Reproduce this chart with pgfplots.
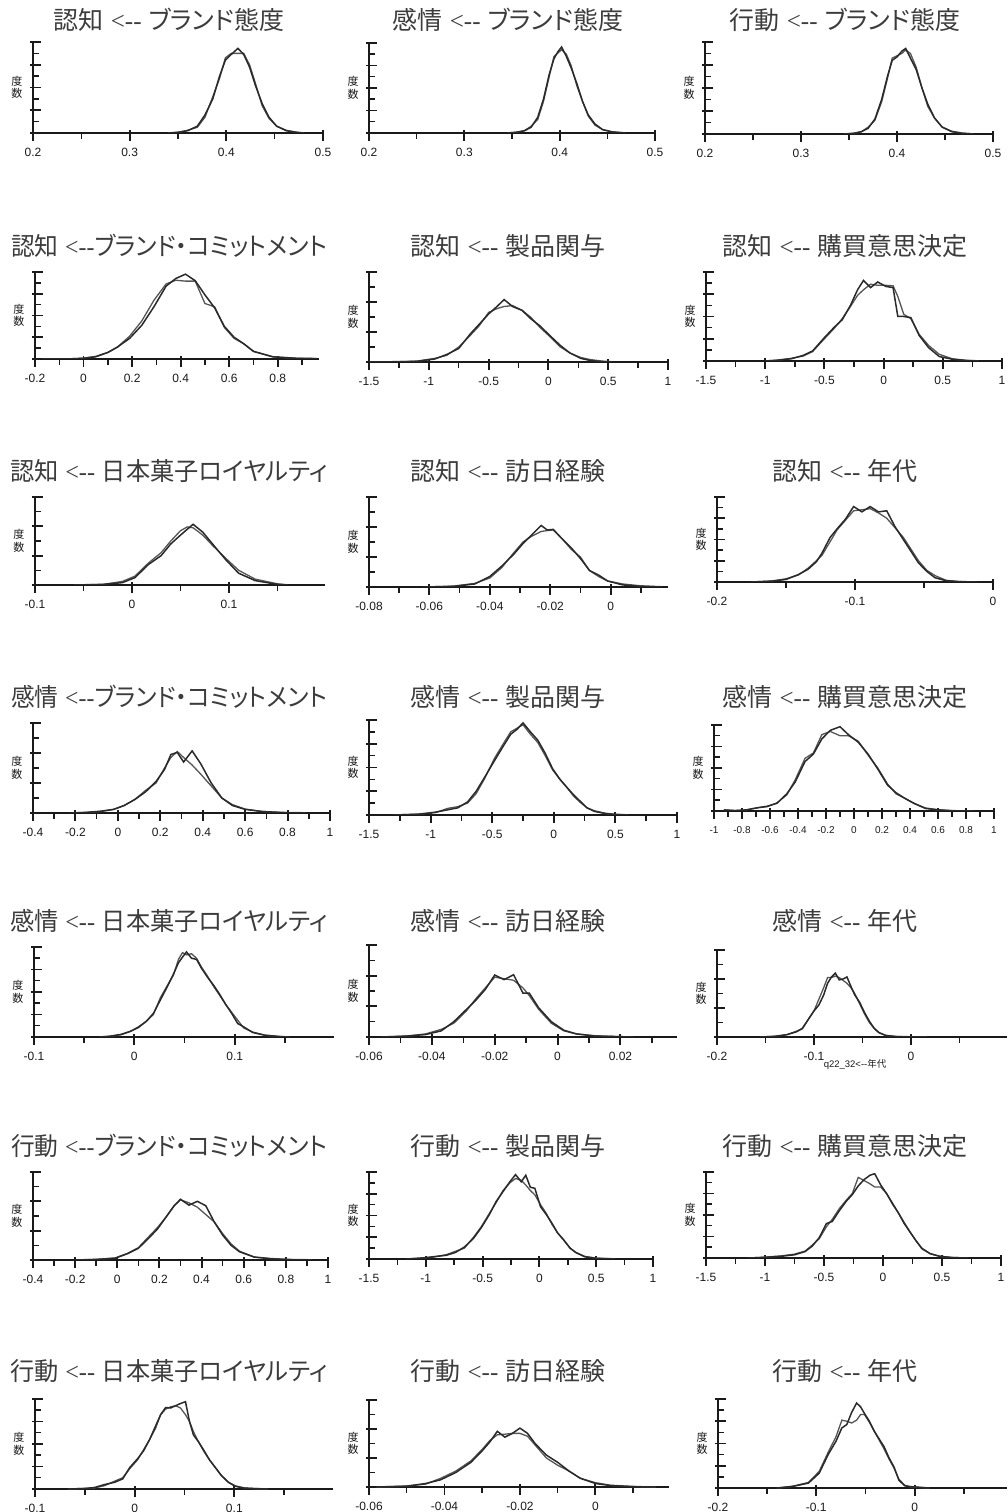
\documentclass[border=0pt]{standalone}
\usepackage{fontspec}
\usepackage{pgfplots}
\usepackage{pgfplotstable}
\pgfplotsset{compat=1.18}
\setmainfont{Liberation Sans}
\newfontfamily\cjk{Noto Sans CJK JP}[RawFeature=+palt]
\newfontfamily\serif{Liberation Serif}

\definecolor{ink}{HTML}{1A1A1A}
\definecolor{titleink}{HTML}{3C3C3C}
\definecolor{curvedark}{HTML}{2A2A2A}
\definecolor{curvegray}{HTML}{555555}

% ---- bootstrap distributions, y in tick units (x, dark curve, gray curve)
% row 1
\pgfplotstableread{
x d g
0.340 0 0
0.350 0.03 0.03
0.360 0.10 0.12
0.370 0.30 0.25
0.378 0.80 0.70
0.386 1.50 1.60
0.393 2.50 2.40
0.399 3.20 3.30
0.405 3.45 3.50
0.412 3.72 3.50
0.418 3.45 3.50
0.424 2.90 3.00
0.430 2.10 2.20
0.437 1.30 1.20
0.444 0.70 0.65
0.452 0.30 0.30
0.462 0.10 0.12
0.472 0.03 0.04
0.480 0 0
}\rAa
\pgfplotstableread{
x d g
0.345 0 0
0.355 0.03 0.04
0.363 0.10 0.10
0.370 0.25 0.30
0.377 0.70 0.60
0.383 1.50 1.40
0.389 2.60 2.50
0.394 3.30 3.40
0.398 3.60 3.55
0.402 3.82 3.70
0.407 3.40 3.50
0.412 2.90 3.00
0.418 2.20 2.10
0.424 1.40 1.40
0.430 0.80 0.75
0.437 0.40 0.35
0.445 0.15 0.15
0.455 0.05 0.05
0.468 0 0.01
}\rAb
\pgfplotstableread{
x d g
0.345 0 0
0.355 0.03 0.03
0.363 0.10 0.10
0.370 0.25 0.30
0.377 0.65 0.60
0.384 1.50 1.40
0.390 2.50 2.40
0.395 3.20 3.30
0.400 3.35 3.40
0.405 3.60 3.50
0.409 3.72 3.65
0.414 3.30 3.50
0.420 2.80 2.90
0.426 2.00 2.00
0.432 1.30 1.20
0.439 0.70 0.70
0.447 0.30 0.30
0.457 0.10 0.12
0.468 0.03 0.04
0.480 0 0
}\rAc
% row 2
\pgfplotstableread{
x d g
-0.17 0 0
-0.05 0.01 0.01
0.00 0.03 0.04
0.05 0.10 0.12
0.10 0.30 0.30
0.14 0.55 0.55
0.19 0.95 1.05
0.24 1.55 1.75
0.29 2.40 2.70
0.34 3.35 3.45
0.38 3.70 3.62
0.42 3.90 3.58
0.46 3.60 3.58
0.50 2.95 2.55
0.54 2.35 2.40
0.58 1.50 1.45
0.62 1.00 0.95
0.66 0.70 0.70
0.70 0.35 0.35
0.78 0.10 0.10
0.88 0.03 0.03
0.96 0.02 0.02
}\rBa
\pgfplotstableread{
x d g
-1.50 0 0
-1.25 0.01 0.01
-1.10 0.02 0.03
-0.95 0.10 0.12
-0.85 0.25 0.22
-0.75 0.45 0.50
-0.65 0.95 0.90
-0.58 1.25 1.20
-0.50 1.60 1.65
-0.43 1.85 1.78
-0.37 2.08 1.85
-0.30 1.85 1.88
-0.22 1.72 1.72
-0.15 1.45 1.50
-0.07 1.20 1.15
0.02 0.85 0.82
0.10 0.55 0.50
0.18 0.30 0.30
0.27 0.12 0.15
0.35 0.05 0.08
0.45 0.01 0.03
0.53 0 0.01
}\rBb
\pgfplotstableread{
x d g
-1.00 0 0
-0.90 0.03 0.04
-0.78 0.10 0.12
-0.68 0.25 0.22
-0.60 0.45 0.42
-0.50 1.05 1.00
-0.42 1.50 1.45
-0.35 1.85 1.90
-0.28 2.50 2.45
-0.22 3.20 2.95
-0.17 3.62 3.20
-0.11 3.30 3.45
-0.05 3.55 3.40
0.02 3.35 3.40
0.08 3.30 3.38
0.12 2.00 2.90
0.17 2.00 2.10
0.23 1.95 1.90
0.30 1.15 1.20
0.38 0.60 0.70
0.47 0.20 0.30
0.58 0.08 0.10
0.70 0.02 0.03
0.80 0 0.01
}\rBc
% row 3
\pgfplotstableread{
x d g
-0.060 0 0
-0.030 0.02 0.02
-0.010 0.08 0.12
0.003 0.25 0.30
0.017 0.70 0.75
0.030 1.00 1.10
0.040 1.40 1.50
0.050 1.70 1.85
0.057 1.90 1.98
0.063 2.07 1.95
0.073 1.80 1.70
0.083 1.40 1.35
0.097 0.85 0.90
0.110 0.40 0.50
0.127 0.15 0.20
0.150 0.02 0.04
0.160 0 0.01
}\rCa
\pgfplotstableread{
x d g
-0.062 0 0
-0.052 0.02 0.03
-0.045 0.10 0.12
-0.040 0.35 0.30
-0.036 0.70 0.65
-0.032 1.10 1.15
-0.029 1.45 1.50
-0.026 1.75 1.70
-0.023 2.05 1.85
-0.021 1.90 1.88
-0.019 1.92 1.90
-0.016 1.60 1.60
-0.013 1.30 1.25
-0.010 0.95 1.00
-0.007 0.55 0.55
-0.004 0.40 0.35
-0.001 0.20 0.20
0.004 0.07 0.10
0.010 0.02 0.04
0.017 0 0.01
}\rCb
\pgfplotstableread{
x d g
-0.175 0 0
-0.160 0.04 0.05
-0.150 0.12 0.15
-0.141 0.35 0.33
-0.134 0.60 0.65
-0.128 0.95 1.00
-0.124 1.35 1.25
-0.118 2.10 1.90
-0.113 2.50 2.45
-0.107 2.95 2.90
-0.101 3.55 3.35
-0.095 3.30 3.40
-0.089 3.55 3.45
-0.083 3.30 3.25
-0.077 3.35 3.00
-0.071 2.60 2.55
-0.065 2.00 2.10
-0.060 1.50 1.60
-0.054 0.90 1.00
-0.048 0.50 0.55
-0.042 0.20 0.30
-0.034 0.06 0.08
-0.025 0.02 0.02
-0.012 0 0
}\rCc
% row 4
\pgfplotstableread{
x d g
-0.22 0 0
-0.15 0.02 0.02
-0.08 0.06 0.05
-0.02 0.12 0.12
0.03 0.25 0.25
0.08 0.45 0.45
0.13 0.70 0.75
0.18 1.05 1.00
0.22 1.45 1.50
0.25 1.95 1.85
0.28 2.02 2.05
0.31 1.70 1.85
0.35 2.07 1.60
0.39 1.65 1.30
0.44 1.00 0.90
0.49 0.50 0.50
0.54 0.25 0.28
0.60 0.12 0.13
0.68 0.05 0.05
0.78 0.01 0.02
0.88 0 0.01
}\rDa
\pgfplotstableread{
x d g
-1.30 0 0
-1.10 0.03 0.04
-0.96 0.12 0.10
-0.86 0.22 0.28
-0.78 0.30 0.35
-0.70 0.55 0.50
-0.63 1.00 0.90
-0.56 1.60 1.55
-0.48 2.30 2.40
-0.41 2.90 3.00
-0.35 3.40 3.50
-0.30 3.60 3.65
-0.25 3.88 3.80
-0.19 3.50 3.40
-0.13 3.15 3.05
-0.07 2.60 2.50
-0.01 1.95 1.90
0.05 1.50 1.50
0.10 1.20 1.20
0.16 0.85 0.80
0.21 0.60 0.55
0.27 0.30 0.30
0.33 0.15 0.18
0.42 0.06 0.07
0.50 0.02 0.03
0.60 0 0.01
}\rDb
\pgfplotstableread{
x d g
-0.93 0.05 0.05
-0.85 0.02 0.02
-0.77 0.05 0.05
-0.69 0.15 0.15
-0.62 0.22 0.20
-0.55 0.36 0.38
-0.48 0.80 0.75
-0.42 1.35 1.45
-0.35 2.30 2.45
-0.29 2.65 2.70
-0.23 3.35 3.55
-0.17 3.75 3.70
-0.10 3.92 3.50
-0.04 3.55 3.50
0.03 3.20 3.25
0.10 2.65 2.60
0.17 1.95 2.00
0.24 1.20 1.25
0.30 0.85 0.80
0.36 0.60 0.60
0.43 0.35 0.35
0.51 0.12 0.14
0.60 0.05 0.06
0.70 0.01 0.02
0.85 0 0
}\rDc
% row 5
\pgfplotstableread{
x d g
-0.035 0 0
-0.025 0.03 0.03
-0.013 0.12 0.10
-0.004 0.25 0.25
0.004 0.42 0.45
0.012 0.70 0.70
0.019 1.05 1.00
0.026 1.65 1.75
0.033 2.25 2.30
0.039 2.80 2.75
0.044 3.30 3.45
0.048 3.55 3.75
0.052 3.78 3.65
0.057 3.50 3.70
0.062 3.45 3.50
0.067 3.05 3.10
0.073 2.65 2.70
0.079 2.30 2.25
0.085 1.90 1.85
0.091 1.45 1.45
0.097 1.05 1.10
0.103 0.60 0.75
0.109 0.45 0.40
0.118 0.20 0.22
0.130 0.08 0.08
0.145 0.02 0.02
0.155 0 0
}\rEa
\pgfplotstableread{
x d g
-0.056 0 0
-0.048 0.03 0.03
-0.042 0.08 0.10
-0.037 0.20 0.25
-0.033 0.50 0.45
-0.029 0.90 0.85
-0.026 1.20 1.25
-0.023 1.55 1.60
-0.020 2.02 1.95
-0.017 1.87 1.90
-0.014 2.03 1.85
-0.011 1.43 1.60
-0.009 1.43 1.35
-0.006 0.95 0.90
-0.002 0.50 0.45
0.002 0.22 0.20
0.006 0.10 0.10
0.012 0.03 0.04
0.024 0 0
}\rEb
\pgfplotstableread{
x d g
-0.155 0 0
-0.140 0.02 0.03
-0.128 0.08 0.08
-0.118 0.18 0.20
-0.112 0.30 0.28
-0.106 0.60 0.60
-0.100 0.90 0.90
-0.095 1.10 1.30
-0.090 1.45 1.70
-0.086 1.85 2.05
-0.082 2.07 2.05
-0.078 2.20 2.10
-0.074 1.97 2.05
-0.070 2.00 1.95
-0.066 2.07 1.85
-0.062 1.75 1.70
-0.058 1.45 1.50
-0.053 1.20 1.15
-0.048 0.85 0.80
-0.043 0.55 0.50
-0.038 0.30 0.30
-0.033 0.15 0.15
-0.026 0.05 0.06
-0.015 0.01 0.02
0.016 0 0
}\rEc
% row 6
\pgfplotstableread{
x d g
-0.20 0 0
-0.10 0.02 0.02
-0.01 0.06 0.07
0.05 0.22 0.23
0.10 0.40 0.42
0.15 0.75 0.80
0.19 1.05 1.10
0.23 1.45 1.45
0.27 1.85 1.85
0.30 2.07 2.05
0.34 1.87 1.95
0.38 2.00 1.80
0.42 1.85 1.55
0.46 1.30 1.30
0.50 0.85 0.90
0.54 0.50 0.55
0.58 0.28 0.30
0.65 0.10 0.10
0.73 0.04 0.05
0.82 0.01 0.02
0.92 0 0.01
}\rFa
\pgfplotstableread{
x d g
-1.17 0 0
-1.05 0.03 0.05
-0.94 0.10 0.08
-0.82 0.17 0.20
-0.74 0.30 0.35
-0.66 0.55 0.50
-0.58 0.95 1.00
-0.51 1.45 1.50
-0.44 2.05 2.10
-0.38 2.65 2.60
-0.32 3.10 3.15
-0.26 3.55 3.50
-0.21 3.88 3.70
-0.16 3.55 3.62
-0.12 3.85 3.40
-0.08 3.30 3.15
-0.04 3.25 2.95
0.01 2.40 2.50
0.06 2.05 2.10
0.11 1.65 1.60
0.16 1.20 1.20
0.21 0.90 0.90
0.27 0.50 0.50
0.32 0.30 0.30
0.40 0.10 0.12
0.50 0.03 0.04
0.66 0 0.01
}\rFb
\pgfplotstableread{
x d g
-1.14 0 0
-1.00 0.03 0.04
-0.86 0.08 0.10
-0.75 0.15 0.18
-0.66 0.30 0.32
-0.60 0.55 0.60
-0.54 0.95 0.90
-0.48 1.60 1.45
-0.43 1.70 1.80
-0.37 2.20 2.30
-0.31 2.65 2.70
-0.26 2.95 3.00
-0.21 3.35 3.75
-0.16 3.65 3.60
-0.11 3.85 3.45
-0.07 3.92 3.30
-0.02 3.40 3.30
0.03 3.00 3.00
0.08 2.55 2.50
0.13 2.10 2.10
0.18 1.60 1.65
0.23 1.20 1.20
0.28 0.80 0.80
0.33 0.45 0.42
0.40 0.20 0.20
0.48 0.08 0.08
0.58 0.02 0.03
0.72 0 0
}\rFc
% row 7
\pgfplotstableread{
x d g
-0.067 0 0
-0.050 0.02 0.03
-0.040 0.07 0.05
-0.030 0.20 0.15
-0.020 0.30 0.35
-0.012 0.45 0.50
-0.005 0.95 0.90
0.003 1.35 1.30
0.009 1.70 1.75
0.015 2.20 2.20
0.021 2.80 2.70
0.026 3.30 3.30
0.031 3.62 3.55
0.036 3.60 3.65
0.041 3.70 3.70
0.046 3.80 3.60
0.051 3.88 3.30
0.055 3.00 3.00
0.059 2.40 2.55
0.064 2.10 2.10
0.069 1.75 1.70
0.075 1.30 1.30
0.081 0.95 0.95
0.087 0.60 0.60
0.094 0.30 0.30
0.101 0.12 0.14
0.110 0.04 0.05
0.120 0.02 0.02
0.134 0 0
}\rGa
\pgfplotstableread{
x d g
-0.058 0 0
-0.050 0.03 0.03
-0.045 0.12 0.10
-0.041 0.25 0.30
-0.037 0.50 0.55
-0.033 0.85 0.90
-0.030 1.25 1.30
-0.028 1.55 1.60
-0.026 1.92 1.80
-0.024 1.72 1.82
-0.022 1.85 1.85
-0.020 2.03 1.85
-0.018 1.85 1.75
-0.016 1.50 1.45
-0.013 1.10 1.00
-0.010 0.85 0.75
-0.007 0.55 0.55
-0.004 0.30 0.30
0.000 0.12 0.15
0.004 0.05 0.06
0.010 0.01 0.02
0.016 0 0
}\rGb
\pgfplotstableread{
x d g
-0.140 0 0
-0.124 0.07 0.08
-0.108 0.22 0.25
-0.097 0.67 0.75
-0.088 1.50 1.60
-0.080 2.10 2.30
-0.074 2.70 3.05
-0.069 2.85 3.00
-0.064 3.40 2.92
-0.059 3.82 3.05
-0.055 3.65 3.30
-0.051 3.35 3.30
-0.046 3.00 2.95
-0.041 2.55 2.55
-0.036 2.20 2.15
-0.031 1.85 1.75
-0.026 1.35 1.30
-0.021 0.95 0.90
-0.016 0.35 0.40
-0.010 0.10 0.12
-0.004 0.06 0.05
0.015 0 0
}\rGc

\pgfplotsset{
  hist/.style={
    scale only axis, anchor=south west,
    axis lines=left, axis line style={-, line width=2.3pt, ink},
    enlargelimits=false, ymin=0,
    tick align=center,
    major tick length=11pt, minor tick length=6.5pt,
    tick style={line width=1.9pt, ink},
    minor tick style={line width=1.5pt},
    xtick style={yshift=-2.5pt},
    ytick style={xshift=2.5pt},
    minor y tick num=1,
    yticklabels={,,,,,,},
    scaled x ticks=false,
    xticklabel style={font=\fontsize{12}{13}\selectfont, anchor=center, yshift=-13.5pt, text=ink},
    ylabel={度\\数},
    ylabel style={font=\cjk\fontsize{11}{12.5}\selectfont, align=center, rotate=-90,
      at={(axis description cs:0,0.5)}, anchor=center, xshift=-16pt, text=ink},
  },
  y4/.style={ymax=4, ytick={0,1,2,3,4}},
  y3/.style={ymax=3, ytick={0,1,2,3}},
  xA/.style={xmin=0.2, xmax=0.5, xtick={0.2,0.3,0.4,0.5}, xticklabels={0.2,0.3,0.4,0.5},
    minor xtick={0.25,0.35,0.45}},
  xB/.style={xmin=-0.2, xmax=0.97, xtick={-0.2,0,0.2,0.4,0.6,0.8},
    xticklabels={-0.2,0,0.2,0.4,0.6,0.8}, minor xtick={-0.1,0.1,0.3,0.5,0.7,0.9}},
  xC/.style={xmin=-1.5, xmax=1, xtick={-1.5,-1,-0.5,0,0.5,1},
    xticklabels={-1.5,-1,-0.5,0,0.5,1}, minor xtick={-1.25,-0.75,-0.25,0.25,0.75}},
  xD/.style={xmin=-0.1, xmax=0.199, xtick={-0.1,0,0.1}, xticklabels={-0.1,0,0.1},
    minor xtick={-0.05,0.05,0.15}},
  xE/.style={xmin=-0.08, xmax=0.019, xtick={-0.08,-0.06,-0.04,-0.02,0},
    xticklabels={-0.08,-0.06,-0.04,-0.02,0}, minor xtick={-0.07,-0.05,-0.03,-0.01,0.01}},
  xF/.style={xmin=-0.2, xmax=#1, xtick={-0.2,-0.1,0}, xticklabels={-0.2,-0.1,0},
    minor xtick={-0.15,-0.05,0.05}},
  xFz/.style={xmin=-0.2, xmax=0, xtick={-0.2,-0.1,0}, xticklabels={-0.2,-0.1,0},
    minor xtick={-0.15,-0.05}},
  xG/.style={xmin=-0.4, xmax=1, xtick={-0.4,-0.2,0,0.2,0.4,0.6,0.8,1},
    xticklabels={-0.4,-0.2,0,0.2,0.4,0.6,0.8,1}, minor xtick={-0.3,-0.1,0.1,0.3,0.5,0.7,0.9}},
  xH/.style={xmin=-1, xmax=1, xtick={-1,-0.8,-0.6,-0.4,-0.2,0,0.2,0.4,0.6,0.8,1},
    xticklabels={-1,-0.8,-0.6,-0.4,-0.2,0,0.2,0.4,0.6,0.8,1},
    minor xtick={-0.9,-0.7,-0.5,-0.3,-0.1,0.1,0.3,0.5,0.7,0.9}},
  xI/.style={xmin=-0.06, xmax=0.038, xtick={-0.06,-0.04,-0.02,0,0.02},
    xticklabels={-0.06,-0.04,-0.02,0,0.02}, minor xtick={-0.05,-0.03,-0.01,0.01,0.03}},
  xJ/.style={xmin=-0.06, xmax=0.0195, xtick={-0.06,-0.04,-0.02,0},
    xticklabels={-0.06,-0.04,-0.02,0}, minor xtick={-0.05,-0.03,-0.01,0.01}},
}

\newcommand\hist[2]{%
  \begin{axis}[hist,#1]
    \addplot[curvegray, line width=1.3pt, no markers] table[x=x, y=g] {#2};
    \addplot[curvedark, line width=1.5pt, no markers] table[x=x, y=d] {#2};
  \end{axis}}

% title centred at (x, y from top); optional = horizontal squeeze
\newcommand\ttl[5][1]{%
  \node[font=\fontsize{25}{28}\selectfont, text=titleink, anchor=center, inner sep=0pt, xscale=#1]
    at (#2pt, 1512pt-#3pt) {{\cjk #4} {\serif <-\kern0pt-}#5};}

\begin{document}
\begin{tikzpicture}
\path[use as bounding box] (0,0) rectangle (1007pt,1512pt);

% row 1
\hist{at={(33pt,1379pt)}, width=290pt, height=91pt, xA, y4}{\rAa}
\hist{at={(369pt,1379pt)}, width=286pt, height=90pt, xA, y4}{\rAb}
\hist{at={(705pt,1378pt)}, width=288pt, height=92pt, xA, y4}{\rAc}
% row 2
\hist{at={(35pt,1153pt)}, width=284pt, height=87pt, xB, y4}{\rBa}
\hist{at={(369pt,1150pt)}, width=299pt, height=90pt, xC, y3}{\rBb}
\hist{at={(706pt,1151pt)}, width=296pt, height=89pt, xC, y4}{\rBc}
% row 3
\hist{at={(35pt,927pt)}, width=290pt, height=88pt, xD, y3}{\rCa}
\hist{at={(369pt,925pt)}, width=299pt, height=90pt, xE, y3}{\rCb}
\hist{at={(717pt,930pt)}, width=276pt, height=85pt, xFz, y4}{\rCc}
% row 4
\hist{at={(33pt,699pt)}, width=297pt, height=90pt, xG, y3}{\rDa}
\hist{at={(369pt,697pt)}, width=308pt, height=95pt, xC, y4}{\rDb}
\hist{at={(714pt,701pt)}, width=280pt, height=86pt, xH, y4,
  xticklabel style={font=\fontsize{10}{11}\selectfont}}{\rDc}
% row 5
\hist{at={(34pt,475pt)}, width=300pt, height=90pt, xD, y4}{\rEa}
\hist{at={(369pt,475pt)}, width=308pt, height=92pt, xI, y3}{\rEb}
\hist{at={(717pt,475pt)}, width=290pt, height=87pt, xF=0.099, y3,
  xlabel={q22\_32<-\kern0pt-{\cjk 年代}},
  xlabel style={font=\fontsize{9.5}{11}\selectfont, text=ink,
    at={(axis description cs:0.476,0)}, anchor=center, yshift=-27pt}}{\rEc}
% row 6
\hist{at={(33pt,252pt)}, width=295pt, height=88pt, xG, y3}{\rFa}
\hist{at={(369pt,253pt)}, width=284pt, height=87pt, xC, y4}{\rFb}
\hist{at={(706pt,254pt)}, width=295pt, height=86pt, xC, y4}{\rFc}
% row 7
\hist{at={(35pt,23pt)}, width=298pt, height=90pt, xD, y4}{\rGa}
\hist{at={(369pt,25pt)}, width=300pt, height=87pt, xJ, y3}{\rGb}
\hist{at={(718pt,24pt)}, width=289pt, height=89pt, xF=0.094, y4}{\rGc}

% titles
\ttl{169}{20}{認知}{ {\cjk ブランド態度}}
\ttl{508}{20}{感情}{ {\cjk ブランド態度}}
\ttl{845}{20}{行動}{ {\cjk ブランド態度}}
\ttl[0.95]{169}{246}{認知}{{\cjk ブランド・コミットメント}}
\ttl{508}{246}{認知}{ {\cjk 製品関与}}
\ttl{845}{246}{認知}{ {\cjk 購買意思決定}}
\ttl[0.97]{169}{471}{認知}{ {\cjk 日本菓子ロイヤルティ}}
\ttl{508}{471}{認知}{ {\cjk 訪日経験}}
\ttl{845}{471}{認知}{ {\cjk 年代}}
\ttl[0.95]{169}{697}{感情}{{\cjk ブランド・コミットメント}}
\ttl{508}{697}{感情}{ {\cjk 製品関与}}
\ttl{845}{697}{感情}{ {\cjk 購買意思決定}}
\ttl[0.97]{169}{921}{感情}{ {\cjk 日本菓子ロイヤルティ}}
\ttl{508}{921}{感情}{ {\cjk 訪日経験}}
\ttl{845}{921}{感情}{ {\cjk 年代}}
\ttl[0.95]{169}{1146}{行動}{{\cjk ブランド・コミットメント}}
\ttl{508}{1146}{行動}{ {\cjk 製品関与}}
\ttl{845}{1146}{行動}{ {\cjk 購買意思決定}}
\ttl[0.97]{169}{1371}{行動}{ {\cjk 日本菓子ロイヤルティ}}
\ttl{508}{1371}{行動}{ {\cjk 訪日経験}}
\ttl{845}{1371}{行動}{ {\cjk 年代}}
\end{tikzpicture}
\end{document}
